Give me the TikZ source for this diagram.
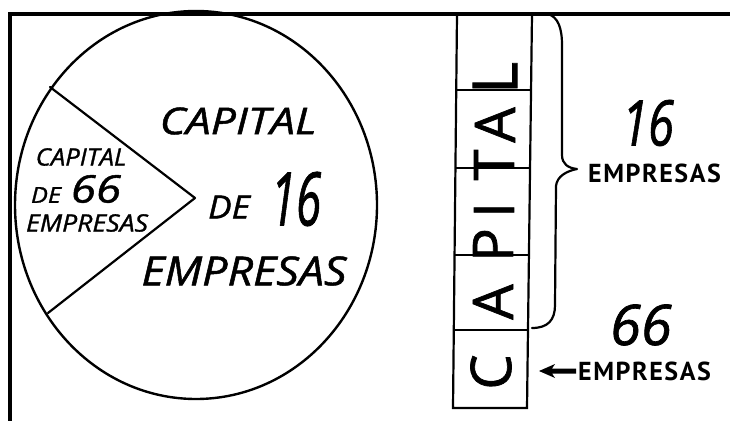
\documentclass[tikz,border=0pt]{standalone}
\usepackage{fontspec}
\setmainfont{Open Sans}
\newfontfamily\handfont[FakeBold=1.2]{Open Sans}
\newfontfamily\lblfont[LetterSpace=6]{PT Sans}
\usetikzlibrary{arrows.meta,shapes.geometric}
\begin{document}
\begin{tikzpicture}[x=1pt,y=-1pt,
  hand/.style={inner sep=0pt, anchor=center},
  lbl/.style={font=\lblfont\bfseries\fontsize{26}{26}\selectfont, inner sep=0pt, anchor=west},
  colletter/.style={font=\handfont\fontsize{56}{56}\selectfont, inner sep=0pt, rotate=90, anchor=center},
  ink/.style={line width=2.2pt, line cap=round, line join=round}]
\useasboundingbox (0,0) rectangle (730,420);
% frame
\draw[line width=4.5pt, line join=miter] (10,422) -- (10,14) -- (732,14);
% pie
\node[draw, ellipse, line width=2.4pt, minimum width=362pt, minimum height=388pt, inner sep=0pt] (pie) at (196,205) {};
\coordinate (apex) at (195,198);
\coordinate (wtop) at (50,87);
\coordinate (wbot) at (48,313);
\draw[ink] (wtop) -- (apex) -- (wbot);
% big slice text
\node[hand, font=\handfont\itshape\fontsize{37}{37}\selectfont] (cap16) at (238,121) {\scalebox{1.2}[1]{CAPITAL}};
\node[hand, font=\handfont\itshape\fontsize{32}{32}\selectfont] (de16) at (229,207) {\scalebox{1.1}[1]{DE}};
\node[hand, font=\handfont\itshape\fontsize{74}{74}\selectfont] (n16) at (296,199) {\scalebox{0.62}[1]{16}};
\node[hand, font=\handfont\itshape\fontsize{40}{40}\selectfont] (emp16) at (244,271) {\scalebox{1.12}[1]{EMPRESAS}};
% small slice text
\node[hand, font=\handfont\itshape\fontsize{24}{24}\selectfont] (cap66) at (81,157) {\scalebox{1.07}[1]{CAPITAL}};
\node[hand, font=\handfont\itshape\fontsize{22}{22}\selectfont] (de66) at (46,195) {\scalebox{1.15}[1]{DE}};
\node[hand, font=\handfont\itshape\fontsize{38}{38}\selectfont] (n66) at (96,189) {\scalebox{1.2}[1]{66}};
\node[hand, font=\handfont\itshape\fontsize{24}{24}\selectfont] (emp66) at (87,223) {\scalebox{1.11}[1]{EMPRESAS}};
% column
\coordinate (ctl) at (457,14);
\coordinate (ctr) at (532,14);
\coordinate (cbl) at (453,408);
\coordinate (cbr) at (527,408);
\draw[line width=2.2pt, line join=miter] (ctl) -- (cbl) -- (cbr) -- (ctr);
\foreach \yy in {90,168,255,330} {
  \draw[line width=2.2pt] ({457-4*(\yy-14)/394},\yy) -- ({532-5*(\yy-14)/394},\yy);
}
\node[colletter] (lc) at (491,372) {C};
\node[colletter] (la1) at (493,302) {A};
\node[colletter] (lp) at (493,245) {P};
\node[colletter] (li) at (494,210) {I};
\node[colletter] (lt) at (494,165) {T};
\node[colletter] (la2) at (495,125) {A};
\node[colletter, font=\handfont\fontsize{62}{62}\selectfont] (ll) at (495,78) {L};
% brace
\draw[ink] (548,14) .. controls (558,17) and (562,28) .. (562,45) -- (562,155)
  .. controls (562,164) and (568,168) .. (577,169)
  .. controls (567,171) and (557,176) .. (556,186) -- (555,305)
  .. controls (555,320) and (548,328) .. (532,328);
% right labels
\node[hand, font=\handfont\itshape\fontsize{63}{63}\selectfont] (r16) at (648,123) {\scalebox{0.75}[1]{16}};
\node[lbl] (remp16) at (588,173) {EMPRESAS};
\node[hand, font=\handfont\itshape\fontsize{56}{56}\selectfont] (r66) at (641,325) {66};
\node[lbl] (remp66) at (578,371) {EMPRESAS};
\coordinate (arrtip) at (539,371);
\coordinate (arrend) at ([xshift=-2pt]remp66.west);
\fill (arrtip) -- ([shift={(16,-7)}]arrtip) -- ([shift={(13,-2.5)}]arrtip)
  -- ([yshift=2.5pt]arrend) -- ([yshift=-2.5pt]arrend)
  -- ([shift={(13,2.5)}]arrtip) -- ([shift={(16,7)}]arrtip) -- cycle;
\end{tikzpicture}
\end{document}
